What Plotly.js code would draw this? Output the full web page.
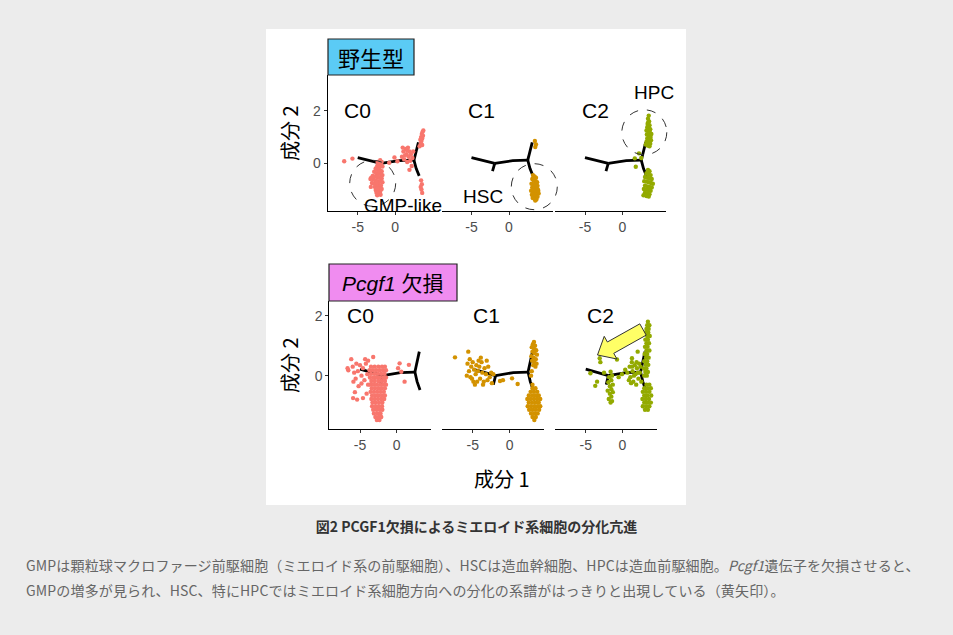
<!DOCTYPE html>
<html>
<head>
<meta charset="utf-8">
<script src="https://cdn.plot.ly/plotly-3.0.1.min.js"></script>
<style>
  html, body { margin:0; padding:0; background:#ececec; width:953px; height:635px; overflow:hidden; }
  #plot { position:absolute; left:266px; top:29px; width:420px; height:476px; background:#fff; }
  #title { position:absolute; left:0; top:516px; width:953px; text-align:center; font-family:"Noto Sans CJK JP", sans-serif; font-weight:bold; font-size:14px; color:#333; line-height:20px; }
  #para { position:absolute; left:26px; top:553px; width:920px; font-family:"Noto Sans CJK JP", sans-serif; font-size:14px; color:#666; line-height:25px; white-space:nowrap; letter-spacing:0.15px; }
</style>
</head>
<body>
<div id="plot"></div>
<div id="title">図2 PCGF1欠損によるミエロイド系細胞の分化亢進</div>
<div id="para">GMPは顆粒球マクロファージ前駆細胞（ミエロイド系の前駆細胞）、HSCは造血幹細胞、HPCは造血前駆細胞。<i>Pcgf1</i>遺伝子を欠損させると、<br>GMPの増多が見られ、HSC、特にHPCではミエロイド系細胞方向への分化の系譜がはっきりと出現している（黄矢印）。</div>
<script>
// ---------------- data ----------------
const clusters = ['C0', 'C1', 'C2'];
const conditions = ['野生型', 'Pcgf1 欠損'];
const xTicks = [-5, 0];
const yTicks = [0, 2];

// trajectory tree (same in every panel)
const treeX = [-5.0, -3.5, -1.9, null, -1.9, -2.2, null, -1.9, 0.5, 2.5, null, 2.5, 2.8, 3.1, null, 2.5, 2.8, 3.2];
const treeY = [0.22, 0.12, 0.0, null, 0.0, -0.3, null, 0.0, 0.1, 0.12, null, 0.12, 0.5, 0.8, null, 0.12, -0.2, -0.48];

// wild type, C0
const wtC0 = [[-2.0,0.12],[-1.8,0.05],[-2.2,0.0],[-1.9,-0.05],[-2.4,-0.1],[-2.1,-0.15],[-1.7,-0.12],[-2.6,-0.2],[-2.3,-0.25],[-2.0,-0.28],[-1.8,-0.3],[-2.8,-0.32],[-2.5,-0.38],[-2.2,-0.4],[-1.9,-0.42],[-1.7,-0.45],[-3.0,-0.48],[-2.7,-0.5],[-2.4,-0.52],[-2.1,-0.55],[-1.8,-0.58],[-2.9,-0.62],[-2.6,-0.65],[-2.3,-0.68],[-2.0,-0.7],[-1.7,-0.72],[-3.1,-0.75],[-2.8,-0.78],[-2.5,-0.8],[-2.2,-0.82],[-1.9,-0.85],[-2.7,-0.9],[-2.4,-0.93],[-2.1,-0.95],[-1.8,-0.98],[-2.6,-1.02],[-2.3,-1.05],[-2.0,-1.08],[-2.5,-1.12],[-2.2,-1.15],[-1.95,-1.2],[-2.4,-1.22],[-2.35,0.05],[-2.15,-0.3],[-2.45,-0.72],[-2.35,-0.95],[-3.3,-0.6],[-3.25,-0.9],
  [-6.8,0.08],[-5.7,0.18],[-3.2,-0.55],[-0.8,0.02],[-0.1,0.22],[0.3,0.08],
  [0.9,0.25],[1.1,0.45],[1.2,0.15],[1.4,0.55],[1.5,0.35],[1.6,0.05],[1.7,0.6],[1.8,0.25],[1.9,0.45],[2.0,0.1],[2.1,0.35],[2.2,-0.1],[1.3,0.3],[1.9,-0.25],[2.3,0.2],[1.0,0.6],[1.6,0.5],[2.4,0.45],
  [3.25,0.65],[3.4,0.75],[3.5,0.85],[3.6,0.95],[3.45,1.0],[3.7,1.05],[3.55,1.12],[3.65,1.2],[3.75,1.25],[3.35,0.9],[3.6,0.7],
  [3.45,-0.65],[3.55,-0.8],[3.5,-1.0],[3.6,-1.13],[3.4,-0.9]];

// wild type, C1
const wtC1 = [[3.2,-0.45],[3.4,-0.5],[3.6,-0.55],[3.1,-0.6],[3.3,-0.65],[3.55,-0.68],[3.75,-0.72],[3.0,-0.78],[3.25,-0.8],[3.5,-0.83],[3.8,-0.86],[3.1,-0.92],[3.35,-0.95],[3.6,-0.98],[3.85,-1.0],[2.95,-1.05],[3.2,-1.08],[3.45,-1.1],[3.7,-1.13],[3.95,-1.15],[3.05,-1.2],[3.3,-1.23],[3.55,-1.25],[3.8,-1.28],[3.15,-1.32],[3.4,-1.35],[3.65,-1.38],[3.5,-1.42],[3.3,-0.55],[3.7,-0.9],[3.4,-1.18],[3.9,-1.05],
  [3.45,0.85],[3.6,0.72],[3.5,0.62]];

// wild type, C2
const wtC2 = [[3.5,1.82],[3.4,1.7],[3.55,1.6],[3.35,1.5],[3.6,1.45],[3.3,1.38],[3.5,1.35],[3.7,1.3],[3.2,1.25],[3.45,1.22],[3.65,1.18],[3.85,1.12],[3.25,1.1],[3.5,1.05],[3.75,1.0],[3.3,0.95],[3.55,0.92],[3.8,0.88],[3.2,0.82],[3.45,0.78],[3.7,0.75],[3.35,0.68],[3.6,0.65],[3.1,0.72],[3.4,1.55],[3.6,1.0],
  [3.4,-0.25],[3.6,-0.3],[3.2,-0.38],[3.45,-0.42],[3.75,-0.45],[3.0,-0.52],[3.3,-0.55],[3.6,-0.58],[3.9,-0.6],[2.9,-0.68],[3.2,-0.7],[3.5,-0.72],[3.8,-0.75],[4.05,-0.78],[3.0,-0.85],[3.3,-0.88],[3.6,-0.9],[3.9,-0.92],[2.85,-0.98],[3.15,-1.0],[3.45,-1.02],[3.75,-1.05],[3.0,-1.12],[3.3,-1.15],[3.6,-1.18],[2.8,-1.22],[3.2,-1.25],[3.5,-1.27],
  [1.64,0.19],[1.77,-0.13],[2.2,0.38],[2.5,0.2]];

// Pcgf1 deficient, C0
const koC0 = [[-3.5,0.3],[-3.0,0.3],[-2.5,0.3],[-2.0,0.3],[-1.6,0.3],
  [-3.7,0.18],[-3.25,0.18],[-2.8,0.18],[-2.3,0.18],[-1.85,0.18],[-1.45,0.18],
  [-3.5,0.06],[-3.0,0.06],[-2.55,0.06],[-2.1,0.06],[-1.65,0.06],
  [-3.65,-0.06],[-3.2,-0.06],[-2.75,-0.06],[-2.3,-0.06],[-1.85,-0.06],[-1.45,-0.06],
  [-3.45,-0.18],[-3.0,-0.18],[-2.5,-0.18],[-2.05,-0.18],[-1.6,-0.18],
  [-3.6,-0.3],[-3.15,-0.3],[-2.7,-0.3],[-2.25,-0.3],[-1.8,-0.3],[-1.45,-0.3],
  [-3.4,-0.42],[-2.95,-0.42],[-2.5,-0.42],[-2.05,-0.42],[-1.6,-0.42],
  [-3.55,-0.54],[-3.1,-0.54],[-2.65,-0.54],[-2.2,-0.54],[-1.75,-0.54],
  [-3.35,-0.66],[-2.9,-0.66],[-2.45,-0.66],[-2.0,-0.66],[-1.6,-0.66],
  [-3.45,-0.78],[-3.0,-0.78],[-2.55,-0.78],[-2.1,-0.78],[-1.7,-0.78],
  [-3.3,-0.9],[-2.85,-0.9],[-2.4,-0.9],[-1.95,-0.9],
  [-3.35,-1.02],[-2.9,-1.02],[-2.45,-1.02],[-2.0,-1.02],
  [-3.2,-1.14],[-2.75,-1.14],[-2.3,-1.14],[-1.95,-1.14],
  [-3.1,-1.26],[-2.65,-1.26],[-2.2,-1.26],
  [-2.9,-1.38],[-2.45,-1.38],[-2.1,-1.38],
  [-2.7,-1.48],[-2.35,-1.48],
  [-6.2,0.55],[-6.6,0.18],[-6.0,0.3],[-5.8,0.1],[-5.5,0.4],[-5.9,-0.2],[-5.6,-0.1],[-5.3,0.15],[-5.0,0.35],[-4.8,0.0],[-5.2,-0.35],[-4.6,0.25],[-4.4,-0.15],[-4.2,0.4],[-4.0,0.05],[-4.8,-0.26],[-5.7,-0.55],[-5.95,-0.75],[-4.6,-0.75],[-4.1,-0.6],[-3.9,-0.3],[-4.3,0.55],[-6.7,0.25],[-5.4,-0.8],[-3.2,0.62],[-3.9,0.5],
  [0.41,0.41],[0.64,0.13],[1.68,0.36],[1.09,-0.2],[0.2,0.25]];

// Pcgf1 deficient, C1
const koC1 = [[-7.4,0.61],[-5.6,0.8],[-5.7,0.4],[-5.4,0.55],[-5.2,0.3],[-5.5,0.15],[-5.0,0.45],[-4.8,0.2],[-5.3,-0.05],[-4.9,-0.2],[-4.6,0.05],[-4.5,0.35],[-4.2,0.5],[-4.3,0.15],[-4.0,-0.1],[-4.1,0.3],[-3.8,0.45],[-3.7,0.1],[-3.5,-0.2],[-3.4,0.25],[-3.2,0.05],[-3.0,-0.15],[-2.9,0.3],[-2.7,-0.05],[-2.5,0.1],[-2.4,-0.25],[-3.6,-0.3],[-4.7,-0.3],[-5.1,-0.1],[-4.4,-0.2],[-3.9,0.6],[-2.2,0.05],[-1.3,-0.18],[-0.9,-0.15],[0.33,-0.09],[1.09,-0.28],[-5.8,0.0],[-3.1,0.5],
  [3.3,1.12],[3.15,1.05],[3.45,1.0],[3.0,0.95],[3.3,0.9],[3.6,0.85],[3.1,0.8],[3.4,0.75],[3.7,0.7],[2.95,0.65],[3.25,0.6],[3.55,0.55],[3.05,0.5],[3.35,0.45],[3.65,0.4],[3.2,0.35],[3.5,0.3],
  [2.9,0.0],[3.1,-0.3],[3.0,0.15],
  [3.1,-0.42],[3.5,-0.42],
  [2.85,-0.54],[3.3,-0.54],[3.75,-0.54],
  [2.6,-0.66],[3.05,-0.66],[3.5,-0.66],[3.95,-0.66],
  [2.4,-0.78],[2.85,-0.78],[3.3,-0.78],[3.75,-0.78],[4.15,-0.78],
  [2.6,-0.9],[3.05,-0.9],[3.5,-0.9],[3.95,-0.9],
  [2.45,-1.02],[2.9,-1.02],[3.35,-1.02],[3.8,-1.02],[4.15,-1.02],
  [2.65,-1.14],[3.1,-1.14],[3.55,-1.14],[4.0,-1.14],
  [2.9,-1.26],[3.35,-1.26],[3.8,-1.26],
  [3.1,-1.38],[3.55,-1.38],
  [3.35,-1.48]];

// Pcgf1 deficient, C2
const koC2 = [[3.5,1.8],[3.4,1.68],[3.7,1.68],[3.3,1.56],[3.6,1.56],[3.2,1.44],[3.55,1.44],[3.4,1.32],[3.75,1.32],[3.15,1.2],[3.5,1.2],[3.3,1.08],[3.65,1.08],[3.1,0.96],[3.45,0.96],[3.3,0.84],[3.7,0.84],[3.05,0.72],[3.4,0.72],[3.25,0.6],[3.6,0.6],[3.0,0.48],[3.4,0.48],[3.2,0.36],[3.55,0.36],[2.95,0.24],[3.3,0.24],[3.15,0.12],[3.5,0.12],[3.0,0.0],[3.35,0.0],
  [3.3,-0.3],[3.7,-0.3],[3.0,-0.42],[3.45,-0.42],[3.9,-0.42],[2.8,-0.54],[3.25,-0.54],[3.7,-0.54],[3.0,-0.66],[3.45,-0.66],[3.95,-0.66],[2.75,-0.78],[3.2,-0.78],[3.65,-0.78],[3.0,-0.9],[3.45,-0.9],[3.9,-0.9],[2.8,-1.02],[3.25,-1.02],[3.7,-1.02],[3.1,-1.14],[3.5,-1.14],
  [0.7,0.1],[1.0,0.3],[1.1,-0.05],[1.3,0.45],[1.4,0.15],[1.5,-0.2],[1.7,0.35],[1.8,0.05],[1.9,-0.3],[2.0,0.25],[2.2,-0.1],[2.3,0.4],[2.4,0.1],[2.6,-0.2],[1.2,-0.25],[2.5,0.3],[1.6,0.0],[2.1,0.1],[0.9,-0.15],[1.35,0.3],[1.95,0.45],
  [-1.6,0.13],[-1.4,0.0],[-1.8,-0.05],[-1.5,-0.15],[-1.9,-0.22],[-1.3,-0.3],[-1.7,-0.35],[-1.5,-0.45],[-2.0,-0.5],[-1.3,-0.55],[-1.7,-0.6],[-1.5,-0.7],[-1.85,-0.78],[-1.4,-0.85],[-1.6,-0.9],
  [-3.09,0.58],[-3.0,0.45],[-4.36,0.08],[-3.45,-0.2],[-3.7,-0.34],[-0.73,0.54],[-0.05,0.05],[1.32,0.58],[2.1,0.8],[-2.5,0.1],[-0.5,-0.05],[0.4,0.2]];

const panelData = [wtC0, wtC1, wtC2, koC0, koC1, koC2];
const clusterColors = ['#F8766D', '#D39200', '#93AA00'];

// ---------------- layout helpers (page pixels -> paper) ----------------
const OX = 266, OY = 29, W = 420, H = 476;
const PX = p => (p - OX) / W;
const PY = p => 1 - (p - OY) / H;

const FONT = 'Liberation Sans, Arial, Noto Sans CJK JP, sans-serif';
const JFONT = 'Noto Sans CJK JP, Liberation Sans, sans-serif';

const xDomPx = [[327.7, 438.7], [441.5, 552.5], [555, 666], [329.3, 431], [441.7, 544.3], [555, 656.7]];
const topYDomPx = [211, 75], botYDomPx = [429, 300.7];

const traces = [];
panelData.forEach((pts, i) => {
  const xa = i === 0 ? 'x' : 'x' + (i + 1);
  const ya = i < 3 ? 'y' : 'y2';
  traces.push({ x: treeX, y: treeY, xaxis: xa, yaxis: ya, mode: 'lines', type: 'scatter',
    line: { color: '#000', width: 2.8 }, hoverinfo: 'skip', showlegend: false, connectgaps: false });
  traces.push({ x: pts.map(p => p[0]), y: pts.map(p => p[1]), xaxis: xa, yaxis: ya, mode: 'markers', type: 'scatter',
    marker: { color: clusterColors[i % 3], size: 4.4, line: { width: 0 } }, showlegend: false });
});

const layout = {
  width: W, height: H, margin: { l: 0, r: 0, t: 0, b: 0 },
  paper_bgcolor: '#fff', plot_bgcolor: 'rgba(0,0,0,0)', showlegend: false,
  font: { family: FONT, color: '#000' },
  annotations: [], shapes: []
};

const xaxisBase = { showgrid: false, zeroline: false, showline: true, linecolor: '#000', linewidth: 1,
  ticks: 'outside', ticklen: 3, tickcolor: '#333', tickwidth: 1, tickvals: xTicks, ticktext: xTicks.map(String),
  tickfont: { family: FONT, size: 14, color: '#4d4d4d' }, fixedrange: true };

xDomPx.forEach((d, i) => {
  const key = i === 0 ? 'xaxis' : 'xaxis' + (i + 1);
  layout[key] = Object.assign({}, xaxisBase, {
    domain: [PX(d[0]), PX(d[1])],
    range: i < 3 ? [-9.0, 5.8] : [-9.2, 4.7],
    anchor: i < 3 ? 'y' : 'y2'
  });
});
const yaxisBase = { showgrid: false, zeroline: false, showline: true, linecolor: '#000', linewidth: 1,
  ticks: 'outside', ticklen: 3, tickcolor: '#333', tickwidth: 1, tickvals: yTicks, ticktext: yTicks.map(String),
  tickfont: { family: FONT, size: 14, color: '#4d4d4d' }, fixedrange: true };
layout.yaxis = Object.assign({}, yaxisBase, { domain: [PY(topYDomPx[0]), PY(topYDomPx[1])], range: [-1.82, 3.37], anchor: 'x' });
layout.yaxis2 = Object.assign({}, yaxisBase, { domain: [PY(botYDomPx[0]), PY(botYDomPx[1])], range: [-1.78, 2.5], anchor: 'x4' });

function txt(text, x, y, size, extra) {
  layout.annotations.push(Object.assign({ text: text, x: PX(x), y: PY(y), xref: 'paper', yref: 'paper',
    xanchor: 'center', yanchor: 'middle', showarrow: false, font: { family: FONT, size: size, color: '#000' } }, extra || {}));
}

// condition boxes
layout.shapes.push({ type: 'rect', xref: 'paper', yref: 'paper', x0: PX(328), x1: PX(414), y0: PY(75), y1: PY(39),
  fillcolor: '#5BCBF5', line: { color: '#222', width: 1.2 } });
layout.shapes.push({ type: 'rect', xref: 'paper', yref: 'paper', x0: PX(329), x1: PX(457), y0: PY(301), y1: PY(264),
  fillcolor: '#F08CF0', line: { color: '#222', width: 1.2 } });
txt(conditions[0], 371, 57, 22, { font: { family: JFONT, size: 22, color: '#000' } });
txt('<i>Pcgf1</i> 欠損', 393, 283, 21, { font: { family: FONT, size: 21, color: '#000' } });

// cluster labels
const topLblX = [357, 482, 595], botLblX = [360, 486, 600];
clusters.forEach((c, i) => { txt(c, topLblX[i], 110.5, 21); txt(c, botLblX[i], 315.7, 21); });

// cell type annotations
txt('GMP-like', 402.7, 205, 19);
txt('HSC', 483, 196.5, 19);
txt('HPC', 653.5, 92.5, 19);

// axis titles
txt('成分 2', 289, 133, 20, { textangle: -90, font: { family: JFONT, size: 20, color: '#000' } });
txt('成分 2', 289, 365, 20, { textangle: -90, font: { family: JFONT, size: 20, color: '#000' } });
txt('成分 1', 502, 478, 20, { font: { family: JFONT, size: 20, color: '#000' } });

// dashed circles
[[372.7, 183.3, 23], [534.3, 186.7, 23], [644.3, 132.3, 22.5]].forEach(c => {
  layout.shapes.push({ type: 'circle', xref: 'paper', yref: 'paper',
    x0: PX(c[0] - c[2]), x1: PX(c[0] + c[2]), y0: PY(c[1] + c[2]), y1: PY(c[1] - c[2]),
    line: { color: '#333', width: 1, dash: 'dash' } });
});

// yellow arrow
(function () {
  const T = [643, 329.5], P = [597.5, 355];
  const dx = P[0] - T[0], dy = P[1] - T[1], L = Math.hypot(dx, dy);
  const u = [dx / L, dy / L], n = [-u[1], u[0]];
  const B = [P[0] - u[0] * 15, P[1] - u[1] * 15];
  const bw = 6.5, hw = 13;
  const pts = [
    [T[0] + n[0] * bw, T[1] + n[1] * bw], [B[0] + n[0] * bw, B[1] + n[1] * bw], [B[0] + n[0] * hw, B[1] + n[1] * hw],
    P, [B[0] - n[0] * hw, B[1] - n[1] * hw], [B[0] - n[0] * bw, B[1] - n[1] * bw], [T[0] - n[0] * bw, T[1] - n[1] * bw]];
  const path = 'M' + pts.map(p => PX(p[0]).toFixed(5) + ',' + PY(p[1]).toFixed(5)).join(' L') + ' Z';
  layout.shapes.push({ type: 'path', xref: 'paper', yref: 'paper', path: path,
    fillcolor: '#FFFF66', line: { color: '#333', width: 1 } });
})();

Plotly.newPlot('plot', traces, layout, { staticPlot: true, displayModeBar: false });
</script>
</body>
</html>
